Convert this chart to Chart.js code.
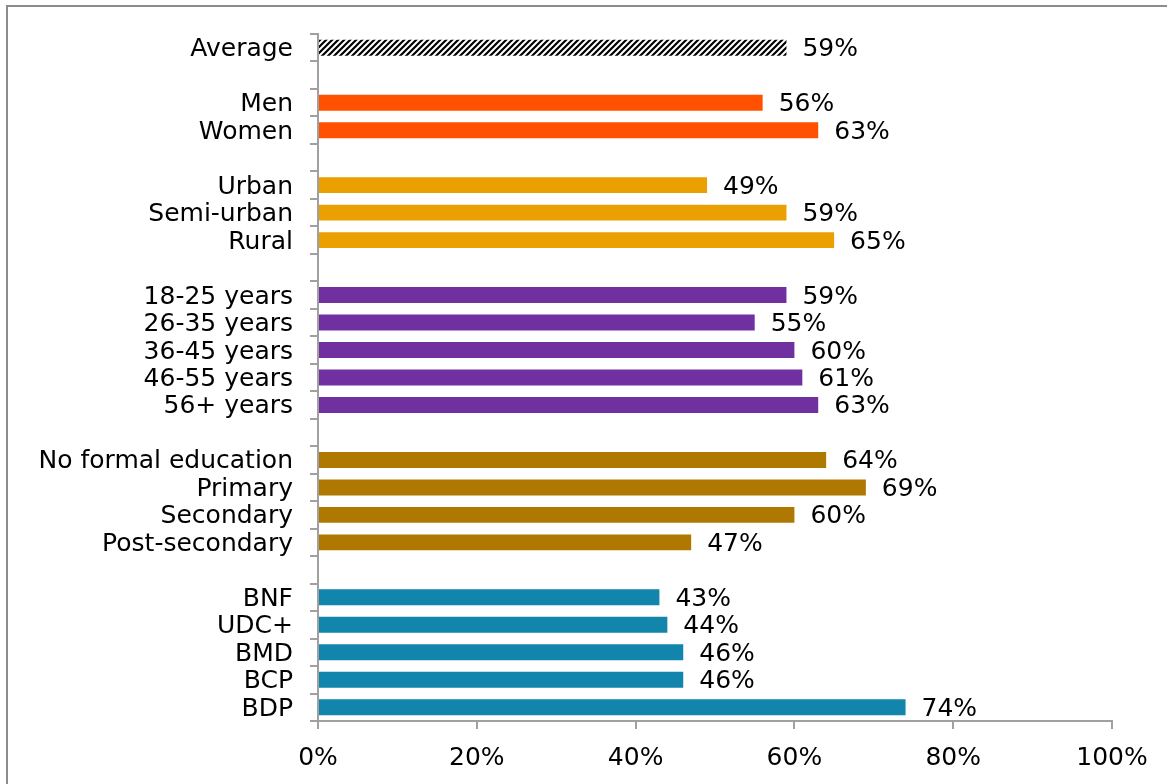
<!DOCTYPE html>
<html>
<head>
<meta charset="utf-8">
<script src="https://cdn.jsdelivr.net/npm/chart.js@4/dist/chart.umd.min.js"></script>
<style>
  html, body { margin: 0; padding: 0; background: #fff; overflow: hidden; }
  #wrap { position: relative; width: 1167px; height: 784px; }
  #frame { position: absolute; left: 6px; top: 5px; width: 1200px; height: 900px; border-left: 2px solid #8c8c8c; border-top: 2px solid #8c8c8c; box-sizing: border-box; pointer-events: none; }
  canvas { position: absolute; left: 0; top: 0; }
</style>
</head>
<body>
<div id="wrap">
  <canvas id="c" width="1167" height="784"></canvas>
  <div id="frame"></div>
</div>
<script>
const categories = ["Average", "", "Men", "Women", "", "Urban", "Semi-urban", "Rural", "",
  "18-25 years", "26-35 years", "36-45 years", "46-55 years", "56+ years", "",
  "No formal education", "Primary", "Secondary", "Post-secondary", "",
  "BNF", "UDC+", "BMD", "BCP", "BDP"];
const values = [59, null, 56, 63, null, 49, 59, 65, null,
  59, 55, 60, 61, 63, null,
  64, 69, 60, 47, null,
  43, 44, 46, 46, 74];
const groups = ["avg", "", "gender", "gender", "", "area", "area", "area", "",
  "age", "age", "age", "age", "age", "",
  "edu", "edu", "edu", "edu", "",
  "party", "party", "party", "party", "party"];
const xTicks = [0, 20, 40, 60, 80, 100];

const groupColors = { gender: "#FF5100", area: "#E9A000", age: "#7030A0", edu: "#AF7800", party: "#1185AB" };

function hatch() {
  const p = document.createElement("canvas");
  p.width = 6; p.height = 6;
  const g = p.getContext("2d");
  g.fillStyle = "#fff"; g.fillRect(0, 0, 6, 6);
  g.strokeStyle = "#000"; g.lineWidth = 2.2;
  g.beginPath();
  g.moveTo(-1, 7); g.lineTo(7, -1);
  g.moveTo(-4, 4); g.lineTo(4, -4);
  g.moveTo(2, 10); g.lineTo(10, 2);
  g.stroke();
  return document.getElementById("c").getContext("2d").createPattern(p, "repeat");
}
const colors = groups.map(g => g === "avg" ? hatch() : (groupColors[g] || "#000"));

const FONT = "'DejaVu Sans', sans-serif";
const FSIZE = 25;

const valueLabels = {
  id: "valueLabels",
  afterDatasetsDraw(chart) {
    const ctx = chart.ctx;
    const meta = chart.getDatasetMeta(0);
    ctx.save();
    ctx.font = FSIZE + "px " + FONT;
    ctx.fillStyle = "#000";
    ctx.textAlign = "left";
    ctx.textBaseline = "middle";
    meta.data.forEach((el, i) => {
      const v = values[i];
      if (v === null || v === undefined) return;
      ctx.fillText(v + "%", el.x + 16, el.y + 2);
    });
    ctx.restore();
  }
};

new Chart(document.getElementById("c"), {
  type: "bar",
  data: {
    labels: categories,
    datasets: [{
      data: values,
      backgroundColor: colors,
      borderWidth: 0,
      categoryPercentage: 1,
      barPercentage: 0.58
    }]
  },
  options: {
    indexAxis: "y",
    responsive: false,
    animation: false,
    events: [],
    layout: { padding: { top: 34, right: 55, bottom: 0, left: 0 } },
    plugins: { legend: { display: false }, tooltip: { enabled: false } },
    scales: {
      x: {
        min: 0, max: 100,
        afterBuildTicks(axis) { axis.ticks = xTicks.map(v => ({ value: v })); },
        ticks: { callback: v => v + "%", font: { family: FONT, size: FSIZE }, color: "#000", padding: 14, maxRotation: 0 },
        grid: { drawOnChartArea: false, tickLength: 8, color: "#a0a0a0", lineWidth: 2 },
        border: { color: "#a0a0a0", width: 2 },
        afterFit(axis) { axis.height = 63; }
      },
      y: {
        ticks: { font: { family: FONT, size: FSIZE }, color: "#000", padding: 17, autoSkip: false, labelOffset: 2 },
        grid: { offset: true, drawOnChartArea: false, tickLength: 8, color: "#a0a0a0", lineWidth: 2 },
        border: { color: "#a0a0a0", width: 2 },
        afterFit(axis) { axis.width = 318; }
      }
    }
  },
  plugins: [valueLabels]
});
</script>
</body>
</html>
